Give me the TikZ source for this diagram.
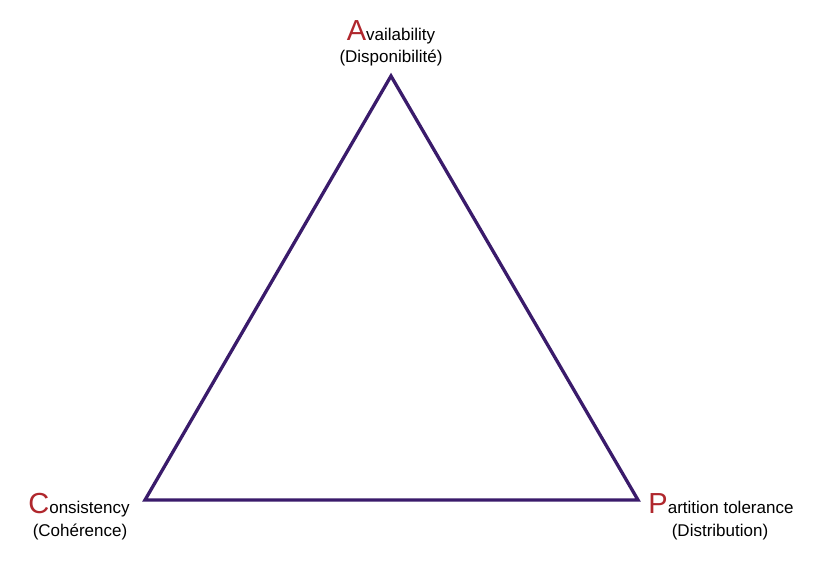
\documentclass[tikz,border=0pt]{standalone}
\usepackage{fontspec}
\setmainfont{Liberation Sans}
\definecolor{tri}{HTML}{3A1B6B}
\definecolor{capred}{HTML}{B0272D}
\newcommand{\capl}[1]{{\fontsize{29}{29}\selectfont\color{capred}#1}}
\tikzset{
  lbl/.style={anchor=base, inner sep=0pt, font=\fontsize{17}{17}\selectfont, text=black},
  edge/.style={draw=tri, line width=3.3pt, line join=miter}
}
\begin{document}
\begin{tikzpicture}[x=1pt,y=-1pt]
\useasboundingbox[fill=white] (0,0) rectangle (814,561);
\coordinate (A) at (391,76);
\coordinate (C) at (145,500);
\coordinate (P) at (638,500);
\draw[edge] (A) -- (P) -- (C) -- cycle;
\node[lbl] (lA1) at (391,41) {\capl{A}vailability};
\node[lbl] (lA2) at (391,63) {(Disponibilité)};
\node[lbl] (lC1) at (79,513) {\capl{C}onsistency};
\node[lbl] (lC2) at (80,536) {(Cohérence)};
\node[lbl] (lP1) at (721,513) {\capl{P}artition tolerance};
\node[lbl] (lP2) at (720,536) {(Distribution)};
\end{tikzpicture}
\end{document}
